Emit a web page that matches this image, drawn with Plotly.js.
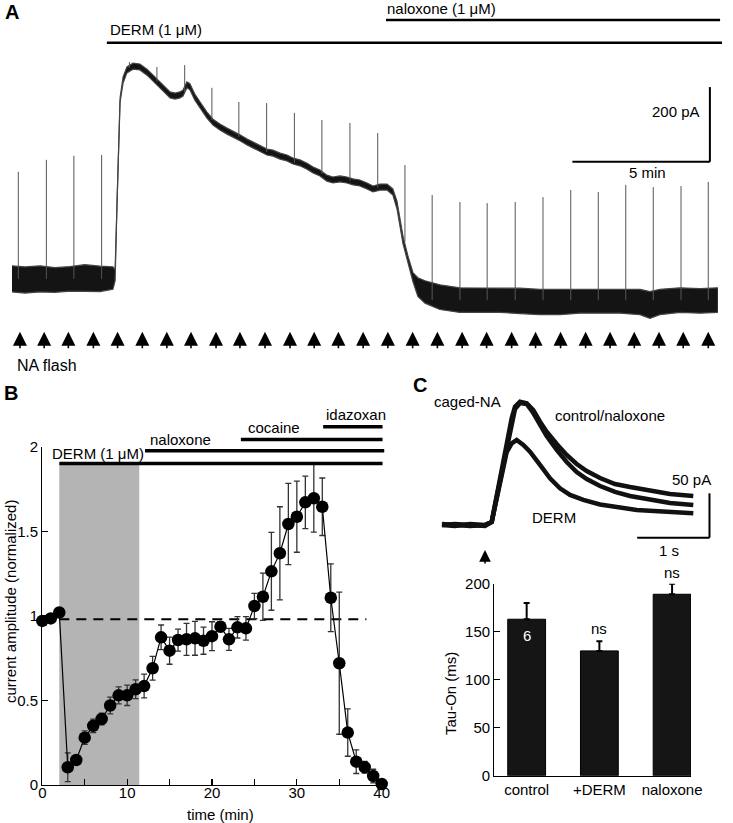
<!DOCTYPE html>
<html><head><meta charset="utf-8">
<script src="https://cdn.plot.ly/plotly-3.0.1.min.js"></script>
<style>html,body{margin:0;padding:0;background:#fff;}#chart{width:733px;height:823px;}</style>
</head><body><div id="chart"></div>
<script>
// ---------- Panel A : current trace (time in min, current in pA) ----------
const traceTimeA = [0.00,0.47,1.02,1.56,2.11,2.65,3.20,3.67,3.75,3.82,3.93,4.04,4.18,4.40,4.65,4.91,5.13,5.38,5.56,5.75,5.93,6.11,6.22,6.36,6.47,6.65,6.84,7.09,7.31,7.56,7.82,8.04,8.29,8.55,8.76,9.02,9.27,9.49,9.75,10.00,10.22,10.47,10.73,10.95,11.20,11.45,11.67,11.93,12.18,12.40,12.65,12.91,13.13,13.38,13.64,13.85,14.00,14.22,14.40,14.58,14.76,15.02,15.56,16.29,17.02,17.75,18.47,19.20,19.93,20.65,21.38,22.11,22.84,23.20,23.56,24.29,25.02,25.67];
const traceCurrentA = [-5,-8,-5,-8,-5,-3,-5,-3,5,206,474,528,555,565,563,549,533,515,501,488,485,488,493,515,510,482,461,434,415,402,391,383,373,362,354,343,335,332,324,319,311,306,297,287,279,265,260,263,260,255,252,244,236,241,241,228,193,99,46,0,-27,-40,-54,-62,-62,-62,-64,-67,-67,-64,-64,-64,-67,-75,-67,-62,-64,-62];
const traceNoiseA = [35,35,35,33,33,36,34,30,15,6,6,8,8,8,8,8,8,8,8,8,8,8,8,8,8,8,8,8,8,8,8,8,8,8,8,8,8,8,8,8,8,8,8,8,8,8,8,8,8,8,8,8,8,8,8,8,10,10,10,12,25,30,33,33,33,33,34,34,34,33,33,33,34,36,34,33,33,33];
const flashTimesA = [0.23,1.25,2.25,3.26,4.27,5.27,6.28,7.27,8.25,9.26,10.27,11.27,12.29,13.30,14.29,15.28,16.29,17.28,18.30,19.31,20.32,21.32,22.32,23.32,24.33,25.32];
const flashBaseA = [-5,-5,-5,-5,560,524,495,421,375,335,306,276,258,239,95,-62,-62,-62,-62,-62,-62,-62,-62,-62,-62,-62];
const flashPeakA = [282,314,325,327,576,563,568,507,469,466,440,421,413,386,300,220,201,198,201,214,233,228,247,241,244,255];
const arrowTimesA = [0.29,1.17,2.05,2.96,3.84,4.74,5.63,6.51,7.42,8.29,9.20,10.11,10.99,11.87,12.77,13.67,14.57,15.47,16.37,17.26,18.17,19.04,19.95,20.86,21.75,22.63,23.53,24.41,25.32];
const dermPeriodA = [3.45, 25.82];
const naloxonePeriodA = [13.60, 25.75];

// ---------- Panel B : normalized amplitude ----------
const timeB = [0,1,2,3,4,5,6,7,8,9,10,11,12,13,14,15,16,17,18,19,20,21,22,23,24,25,26,27,28,29,30,31,32,33,34,35,36,37,38,39,40];
const amplitudeB = [0.97,0.985,1.02,0.105,0.148,0.28,0.35,0.39,0.47,0.53,0.53,0.566,0.585,0.69,0.873,0.794,0.857,0.861,0.867,0.853,0.88,0.936,0.861,0.932,0.926,1.058,1.113,1.263,1.37,1.543,1.586,1.671,1.695,1.645,1.107,0.72,0.31,0.138,0.105,0.053,0.006];
const errorB = [0,0,0,0.085,0.02,0.04,0.04,0.035,0.05,0.05,0.06,0.055,0.07,0.07,0.073,0.08,0.065,0.095,0.10,0.08,0.085,0.03,0.065,0.063,0.07,0.075,0.14,0.23,0.275,0.24,0.21,0.155,0.2,0.17,0.2,0.42,0.14,0.07,0.035,0.04,0.01];
const dermShadeB = [2.0, 11.43];
const controlLevelB = 0.98;
const controlSpanB = [0, 38.2];
const drugNamesB = ['DERM (1 μM)', 'naloxone', 'cocaine', 'idazoxan'];
const drugStartB = [2.0, 12.1, 23.4, 33.1];
const drugEndB = [40.1, 40.3, 40.1, 40.1];
const drugLevelB = [1.90, 1.976, 2.043, 2.118];
const drugLabelXB = [0.9, 12.49, 23.99, 33.2];
const drugLabelYB = [1.961, 2.040, 2.115, 2.192];

// ---------- Panel C : caged-NA traces (time in s, current in pA) ----------
const timeCtrlC = [-0.595,-0.415,-0.207,0,0.093,0.162,0.231,0.300,0.369,0.415,0.484,0.577,0.668,0.761,0.853,0.992,1.130,1.268,1.407,1.591,1.798,2.006,2.282,2.559,2.881];
const currentCtrlC = [0,-1,1,0,3.7,33.8,60,93.8,120.2,133.2,138.9,137,129.5,116.3,105.1,91.2,78.8,68.7,60.8,52.9,46.2,42.8,38.3,34.9,32.7];
const currentNalC = [1,0,-1,0,3.4,31.5,58.6,90.1,117.1,130.6,137.4,136.3,126.1,112.6,100.2,84.5,70.9,59.7,51.8,43.9,37.2,32.7,28.2,24.8,22.5];
const timeDermC = [-0.595,-0.415,-0.207,0,0.093,0.162,0.231,0.300,0.369,0.438,0.530,0.622,0.761,0.899,1.037,1.176,1.360,1.591,2.098,2.466,2.881];
const currentDermC = [0,1,0,-1,3.4,30.4,56.3,82.2,92,95.7,90.1,82.5,67.6,52.6,41.3,33.8,28.2,23.1,16.9,15,13.2];
const conditionsC = ['control', '+DERM', 'naloxone'];
const tauOnC = [163, 130, 189];
const tauErrC = [17, 10, 11];
const nControlC = '6';
const sigC = ['', 'ns', 'ns'];

// ---------- helpers (page pixel -> paper fraction) ----------
const W = 733, H = 823;
const px = v => v / W;
const py = v => 1 - v / H;
const FONT = 'Liberation Sans, Arial, sans-serif';
const black = '#111';

const traces = [];
// A : noise band
traces.push({x: traceTimeA, y: traceCurrentA.map((v,i)=>v-traceNoiseA[i]), xaxis:'x', yaxis:'y', mode:'lines', line:{color:'#444', width:1.2}, hoverinfo:'skip'});
traces.push({x: traceTimeA, y: traceCurrentA.map((v,i)=>v+traceNoiseA[i]), xaxis:'x', yaxis:'y', mode:'lines', fill:'tonexty', fillcolor:'#141414', line:{color:'#444', width:1.2}, hoverinfo:'skip'});
// A : flash responses (spikes)
const sx = [], sy = [];
flashTimesA.forEach((t,i)=>{ sx.push(t,t,null); sy.push(flashBaseA[i], flashPeakA[i], null); });
traces.push({x: sx, y: sy, xaxis:'x', yaxis:'y', mode:'lines', line:{color:'#555', width:1}, hoverinfo:'skip'});

// B : data
traces.push({x: timeB, y: amplitudeB, xaxis:'x2', yaxis:'y2', mode:'lines+markers', cliponaxis:false,
  line:{color:'#000', width:1.2}, marker:{size:12.5, color:'#000'},
  error_y:{type:'data', array: errorB, visible:true, color:'#333', thickness:1.3, width:3}});
// B : treatment bars (overlay subplot)
drugNamesB.forEach((n,i)=>{
  traces.push({x:[drugStartB[i], drugEndB[i]], y:[drugLevelB[i], drugLevelB[i]], xaxis:'x3', yaxis:'y3', mode:'lines', line:{color:'#000', width:3.5}, hoverinfo:'skip'});
});

// C : bars
traces.push({type:'bar', x: conditionsC, y: tauOnC, xaxis:'x4', yaxis:'y4', width:0.52, cliponaxis:false,
  marker:{color:'#151515', line:{color:'#000', width:1}},
  error_y:{type:'data', array: tauErrC, arrayminus: tauOnC.map(()=>0), symmetric:false, visible:true, color:'#000', thickness:2, width:3}});
// C : traces
traces.push({x: timeCtrlC, y: currentCtrlC, xaxis:'x5', yaxis:'y5', mode:'lines', line:{color:black, width:4.5}, hoverinfo:'skip'});
traces.push({x: timeCtrlC, y: currentNalC, xaxis:'x5', yaxis:'y5', mode:'lines', line:{color:black, width:4.5}, hoverinfo:'skip'});
traces.push({x: timeDermC, y: currentDermC, xaxis:'x5', yaxis:'y5', mode:'lines', line:{color:black, width:4.5}, hoverinfo:'skip'});

const hidden = {visible:false, fixedrange:true};
const ann = [];
const txt = (text, x, y, xref, yref, xanchor, extra) => ann.push(Object.assign({text, x, y, xref, yref, xanchor, yanchor:'middle', showarrow:false, font:{family:FONT, size:15, color:'#000'}}, extra||{}));

// panel letters
txt('<b>A</b>', px(3), py(12), 'paper', 'paper', 'left', {font:{family:FONT, size:20, color:'#000'}});
txt('<b>B</b>', px(2), py(393), 'paper', 'paper', 'left', {font:{family:FONT, size:20, color:'#000'}});
txt('<b>C</b>', px(411), py(385), 'paper', 'paper', 'left', {font:{family:FONT, size:20, color:'#000'}});
// A texts
txt('DERM (1 μM)', dermPeriodA[0]+0.04, 664.6, 'x', 'y', 'left');
txt('naloxone (1 μM)', naloxonePeriodA[0]-0.04, 720, 'x', 'y', 'left');
txt('200 pA', 25.09, 443, 'x', 'y', 'right');
txt('5 min', 23.11, 279, 'x', 'y', 'center');
txt('NA flash', 0.11, -236, 'x', 'y', 'left', {font:{family:FONT, size:16, color:'#000'}});
arrowTimesA.forEach(t => ann.push({x:t, y:-147, xref:'x', yref:'y', text:'', showarrow:true, ax:0, ay:18, arrowhead:2, arrowsize:1.75, arrowwidth:1.6, arrowcolor:'#000', standoff:0}));
// B texts
drugNamesB.forEach((n,i)=> txt(n, drugLabelXB[i], drugLabelYB[i], 'x3', 'y3', 'left'));
txt('time (min)', px(220), py(814), 'paper', 'paper', 'center');
txt('current amplitude (normalized)', px(10), py(602), 'paper', 'paper', 'center', {textangle:-90});
// C texts
txt('caged-NA', -0.733, 139.6, 'x5', 'y5', 'left');
txt('control/naloxone', 0.945, 123.1, 'x5', 'y5', 'left');
txt('DERM', 0.622, 9, 'x5', 'y5', 'left');
txt('50 pA', 3.149, 51.5, 'x5', 'y5', 'right');
txt('1 s', 2.545, -28.9, 'x5', 'y5', 'center');
ann.push({x:0, y:-28.2, xref:'x5', yref:'y5', text:'', showarrow:true, ax:0, ay:15, arrowhead:2, arrowsize:1.45, arrowwidth:1.6, arrowcolor:'#000', standoff:0});
txt(nControlC, conditionsC[0], 145.8, 'x4', 'y4', 'center', {font:{family:FONT, size:15, color:'#fff'}});
txt(sigC[1], conditionsC[1], 153.5, 'x4', 'y4', 'center');
txt(sigC[2], conditionsC[2], py(572.3), 'x4', 'paper', 'center');
txt('Tau-On (ms)', px(450), py(693), 'paper', 'paper', 'center', {textangle:-90});

const shapes = [
  // A treatment bars
  {type:'line', xref:'x', yref:'y', x0:dermPeriodA[0], x1:dermPeriodA[1], y0:628, y1:628, line:{color:'#000', width:2.5}},
  {type:'line', xref:'x', yref:'y', x0:naloxonePeriodA[0], x1:naloxonePeriodA[1], y0:689, y1:689, line:{color:'#000', width:2.5}},
  // A scale bar (5 min, 200 pA)
  {type:'line', xref:'x', yref:'y', x0:20.38, x1:25.38, y0:309, y1:309, line:{color:'#000', width:2}},
  {type:'line', xref:'x', yref:'y', x0:25.38, x1:25.38, y0:309, y1:509, line:{color:'#000', width:2}},
  // B shaded DERM window & control level
  {type:'rect', xref:'x2', yref:'y2', x0:dermShadeB[0], x1:dermShadeB[1], y0:0, y1:drugLevelB[0], fillcolor:'#b4b4b4', line:{width:0}, layer:'below'},
  {type:'line', xref:'x2', yref:'y2', x0:controlSpanB[0], x1:controlSpanB[1], y0:controlLevelB, y1:controlLevelB, line:{color:'#000', width:2, dash:'10px,7px'}, layer:'below'},
  // C scale bar (1 s, 50 pA)
  {type:'line', xref:'x5', yref:'y5', x0:2.105, x1:3.105, y0:-14.3, y1:-14.3, line:{color:'#000', width:2}},
  {type:'line', xref:'x5', yref:'y5', x0:3.105, x1:3.105, y0:-14.3, y1:35.7, line:{color:'#000', width:2}}
];

const tickFont = {family:FONT, size:15, color:'#000'};
const layout = {
  width:W, height:H, margin:{l:0, r:0, t:0, b:0}, paper_bgcolor:'#fff', plot_bgcolor:'rgba(0,0,0,0)',
  showlegend:false, font:{family:FONT, size:15, color:'#000'},
  xaxis: Object.assign({domain:[0,1], range:[-0.436, 26.22], anchor:'y'}, hidden),
  yaxis: Object.assign({domain:[py(380), 1], range:[-276, 742.4], anchor:'x'}, hidden),
  xaxis2: {domain:[px(42.3), px(381.7)], range:[0,40], anchor:'y2', showline:true, linecolor:'#000', linewidth:1.2, ticks:'inside', ticklen:6, tickwidth:1.2, tickcolor:'#000',
    tickvals:[0,5,10,15,20,25,30,35,40], ticktext:['0','','10','','20','','30','','40'], ticklabelstandoff:-6, showgrid:false, zeroline:false, tickfont:tickFont, fixedrange:true},
  yaxis2: {domain:[py(785), py(446.7)], range:[0,2], anchor:'x2', showline:true, linecolor:'#000', linewidth:1.2, ticks:'inside', ticklen:6, tickwidth:1.2, tickcolor:'#000',
    tickvals:[0,0.5,1,1.5,2], ticktext:['0','0.5','1','1.5','2'], showgrid:false, zeroline:false, tickfont:tickFont, fixedrange:true},
  xaxis3: Object.assign({domain:[0, px(424.1)], range:[-5,45], anchor:'y3'}, hidden),
  yaxis3: Object.assign({domain:[py(785), py(400)], range:[0, 2.2761], anchor:'x3'}, hidden),
  xaxis4: {domain:[px(494.3), px(691)], range:[-0.445, 2.26], type:'category', anchor:'y4', showline:true, linecolor:'#000', linewidth:1.2, ticks:'', showgrid:false, zeroline:false, tickfont:tickFont, fixedrange:true},
  yaxis4: {domain:[py(775.7), py(583.7)], range:[0,200], anchor:'x4', showline:true, linecolor:'#000', linewidth:1.2, ticks:'inside', ticklen:6, tickwidth:1.2, tickcolor:'#000',
    tickvals:[0,50,100,150,200], showgrid:false, zeroline:false, tickfont:tickFont, fixedrange:true},
  xaxis5: Object.assign({domain:[px(430), px(720)], range:[-0.7607, 3.2503], anchor:'y5'}, hidden),
  yaxis5: Object.assign({domain:[py(565), py(380)], range:[-45.05, 163.29], anchor:'x5'}, hidden),
  annotations: ann, shapes: shapes
};
Plotly.newPlot('chart', traces, layout, {displayModeBar:false, staticPlot:true});
</script></body></html>
